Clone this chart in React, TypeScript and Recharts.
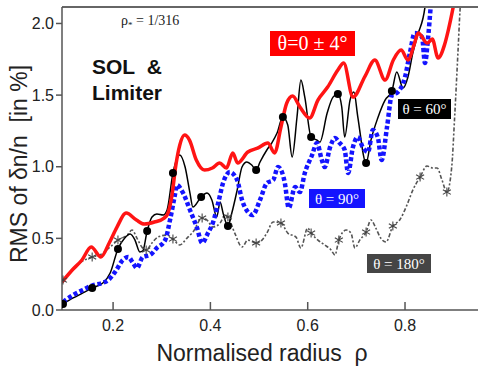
import React from "react";
import { ComposedChart, Line, XAxis, YAxis, Label } from "recharts";

// RMS of dn/n (in %) against normalised radius, one list per poloidal angle
const theta0: [number, number][] = [
  [0.095, 0.195], [0.116, 0.279], [0.136, 0.349], [0.155, 0.44], [0.175, 0.37],
  [0.192, 0.468], [0.208, 0.579], [0.227, 0.677], [0.248, 0.628], [0.264, 0.6],
  [0.285, 0.614], [0.305, 0.642], [0.312, 0.67], [0.321, 0.8], [0.329, 1.01],
  [0.337, 1.15], [0.347, 1.221], [0.357, 1.186], [0.371, 1.047], [0.388, 0.977],
  [0.404, 0.991], [0.419, 1.026], [0.433, 0.991], [0.446, 1.096], [0.456, 1.026],
  [0.477, 1.103], [0.497, 1.13], [0.518, 1.165], [0.532, 1.096], [0.545, 1.277],
  [0.557, 1.445], [0.569, 1.493], [0.584, 1.417], [0.604, 1.34], [0.621, 1.465],
  [0.641, 1.556], [0.662, 1.675], [0.674, 1.724], [0.693, 1.486], [0.718, 1.633],
  [0.738, 1.745], [0.759, 1.605], [0.776, 1.745], [0.792, 1.814], [0.806, 1.745],
  [0.819, 1.856], [0.827, 1.933], [0.846, 1.863], [0.856, 1.891], [0.868, 1.759],
  [0.881, 1.849], [0.889, 1.954], [0.899, 2.114], [0.909, 2.3],
];

const theta60: [number, number][] = [
  [0.097, 0.042], [0.118, 0.084], [0.138, 0.119], [0.157, 0.154], [0.179, 0.188],
  [0.194, 0.258], [0.21, 0.426], [0.224, 0.502], [0.235, 0.53], [0.245, 0.488],
  [0.255, 0.405], [0.261, 0.412], [0.27, 0.551], [0.28, 0.649], [0.29, 0.67],
  [0.303, 0.663], [0.311, 0.698], [0.323, 0.956], [0.337, 1.082], [0.348, 0.998],
  [0.358, 0.816], [0.364, 0.719], [0.381, 0.789], [0.393, 0.816], [0.403, 0.768],
  [0.413, 0.649], [0.42, 0.754], [0.426, 0.677], [0.436, 0.586], [0.444, 0.677],
  [0.455, 0.837], [0.465, 0.998], [0.475, 1.033], [0.485, 1.012], [0.494, 0.977],
  [0.502, 1.033], [0.516, 1.117], [0.526, 1.165], [0.537, 1.235], [0.549, 1.347],
  [0.559, 1.291], [0.568, 1.068], [0.578, 1.347], [0.586, 1.605], [0.594, 1.486],
  [0.607, 1.207], [0.619, 1.186], [0.625, 1.172], [0.64, 1.375], [0.652, 1.486],
  [0.662, 1.507], [0.67, 1.417], [0.676, 1.207], [0.687, 1.465], [0.695, 1.521],
  [0.703, 1.347], [0.72, 1.026], [0.73, 1.186], [0.744, 1.34], [0.759, 1.465],
  [0.773, 1.528], [0.783, 1.661], [0.796, 1.549], [0.806, 1.626], [0.816, 1.793],
  [0.826, 1.919], [0.841, 2.114], [0.847, 2.3],
];
const theta60Marks = [0.097, 0.157, 0.21, 0.27, 0.323, 0.381, 0.436, 0.494, 0.549, 0.607, 0.662, 0.72, 0.773];

const theta90: [number, number][] = [
  [0.097, 0.056], [0.118, 0.105], [0.138, 0.14], [0.159, 0.174], [0.177, 0.188],
  [0.19, 0.209], [0.204, 0.265], [0.22, 0.349], [0.231, 0.37], [0.241, 0.328],
  [0.249, 0.293], [0.261, 0.37], [0.276, 0.384], [0.29, 0.433], [0.307, 0.488],
  [0.317, 0.628], [0.327, 0.803], [0.331, 0.872], [0.344, 0.816], [0.358, 0.698],
  [0.372, 0.579], [0.383, 0.468], [0.395, 0.537], [0.405, 0.607], [0.416, 0.747],
  [0.426, 0.886], [0.44, 0.963], [0.455, 0.907], [0.465, 0.768], [0.477, 0.684],
  [0.487, 0.663], [0.502, 0.768], [0.516, 0.886], [0.529, 0.907], [0.539, 0.998],
  [0.547, 0.963], [0.553, 0.886], [0.561, 0.712], [0.574, 0.858], [0.584, 0.823],
  [0.594, 0.956], [0.609, 1.082], [0.619, 1.165], [0.629, 1.047], [0.635, 0.998],
  [0.646, 1.137], [0.656, 1.2], [0.666, 1.165], [0.676, 1.117], [0.683, 0.956],
  [0.693, 1.137], [0.703, 1.207], [0.713, 1.137], [0.724, 1.103], [0.734, 1.256],
  [0.744, 1.207], [0.752, 1.047], [0.763, 1.277], [0.773, 1.5], [0.785, 1.521],
  [0.8, 1.626], [0.81, 1.793], [0.82, 1.933], [0.835, 1.905], [0.841, 1.724],
  [0.847, 1.884], [0.853, 2.128], [0.857, 2.3],
];

const theta180: [number, number][] = [
  [0.097, 0.209], [0.118, 0.279], [0.132, 0.328], [0.157, 0.37], [0.173, 0.384],
  [0.194, 0.44], [0.21, 0.488], [0.229, 0.523], [0.239, 0.558], [0.249, 0.502],
  [0.259, 0.44], [0.268, 0.419], [0.28, 0.468], [0.292, 0.509], [0.311, 0.523],
  [0.323, 0.495], [0.337, 0.454], [0.352, 0.502], [0.364, 0.544], [0.383, 0.642],
  [0.393, 0.628], [0.405, 0.579], [0.42, 0.607], [0.43, 0.663], [0.436, 0.649],
  [0.45, 0.537], [0.465, 0.44], [0.477, 0.488], [0.494, 0.468], [0.506, 0.488],
  [0.516, 0.537], [0.529, 0.614], [0.545, 0.607], [0.559, 0.537], [0.576, 0.509],
  [0.586, 0.433], [0.6, 0.572], [0.607, 0.537], [0.621, 0.488], [0.635, 0.454],
  [0.648, 0.419], [0.656, 0.384], [0.664, 0.488], [0.679, 0.558], [0.689, 0.537],
  [0.697, 0.433], [0.707, 0.488], [0.72, 0.544], [0.73, 0.628], [0.74, 0.572],
  [0.75, 0.502], [0.761, 0.475], [0.775, 0.586], [0.789, 0.628], [0.804, 0.733],
  [0.816, 0.837], [0.831, 0.928], [0.845, 1.005], [0.857, 0.991], [0.866, 0.991],
  [0.876, 0.907], [0.886, 0.823], [0.896, 0.998], [0.902, 1.347], [0.909, 1.814],
  [0.913, 2.09], [0.917, 2.3],
];
const theta180Marks = [0.097, 0.157, 0.21, 0.268, 0.323, 0.383, 0.436, 0.494, 0.545, 0.607, 0.664, 0.72, 0.775, 0.831, 0.886];

const xTicks = [0.2, 0.4, 0.6, 0.8];
const yTicks = [0, 0.5, 1, 1.5, 2];

const SANS = "'Liberation Sans', Arial, sans-serif";
const SERIF = "'Liberation Serif', 'Times New Roman', serif";

const toRows = (pts: [number, number][]) => pts.map(([x, y]) => ({ x, y }));

const blackDot = (marks: number[]) => (props: any) => {
  const { cx, cy, payload, index } = props;
  if (!marks.includes(payload.x)) return <g key={index} />;
  return <circle key={index} cx={cx} cy={cy} r={4} fill="#000" />;
};

const starDot = (marks: number[]) => (props: any) => {
  const { cx, cy, payload, index } = props;
  if (!marks.includes(payload.x)) return <g key={index} />;
  return (
    <g key={index} stroke="#444" strokeWidth={1.1}>
      <line x1={cx} y1={cy - 4.5} x2={cx} y2={cy + 4.5} />
      <line x1={cx - 4} y1={cy - 2.3} x2={cx + 4} y2={cy + 2.3} />
      <line x1={cx - 4} y1={cy + 2.3} x2={cx + 4} y2={cy - 2.3} />
    </g>
  );
};

const tickStyle = { fontSize: 16, fill: "#222", fontFamily: SANS };

export default function App() {
  return (
    <div style={{ position: "relative", width: 478, height: 368 }}>
      <style>{`body{margin:0}`}</style>
      <ComposedChart width={478} height={368} margin={{ top: 7, right: 0, bottom: 0, left: 0 }}>
        <XAxis
          xAxisId="b"
          type="number"
          dataKey="x"
          domain={[0.095, 0.95]}
          allowDataOverflow
          ticks={xTicks}
          height={58}
          tickSize={-8}
          tickMargin={18}
          tickFormatter={(v: number) => v.toFixed(1)}
          tick={tickStyle}
          axisLine={{ stroke: "#555", strokeWidth: 1.5 }}
          tickLine={{ stroke: "#555", strokeWidth: 1.5 }}
        >
          <Label
            content={() => (
              <text x={262} y={361} textAnchor="middle" fontSize={23} fill="#222" fontFamily={SANS}>
                {"Normalised radius\u00a0\u00a0ρ"}
              </text>
            )}
          />
        </XAxis>
        <XAxis
          xAxisId="t"
          orientation="top"
          type="number"
          domain={[0.095, 0.95]}
          allowDataOverflow
          ticks={xTicks}
          mirror
          tick={false}
          tickSize={8}
          axisLine={{ stroke: "#666", strokeWidth: 2 }}
          tickLine={{ stroke: "#555", strokeWidth: 1.5 }}
        />
        <YAxis
          type="number"
          domain={[0, 2.115]}
          allowDataOverflow
          ticks={yTicks}
          width={62}
          tickSize={6}
          tickFormatter={(v: number) => v.toFixed(1)}
          tick={tickStyle}
          axisLine={{ stroke: "#555", strokeWidth: 1.5 }}
          tickLine={{ stroke: "#555", strokeWidth: 1.5 }}
        >
          <Label
            content={() => (
              <text
                x={27}
                y={164}
                transform="rotate(-90 27 164)"
                textAnchor="middle"
                fontSize={23}
                fill="#222"
                fontFamily={SANS}
              >
                {"RMS of δn/n\u00a0\u00a0[in %]"}
              </text>
            )}
          />
        </YAxis>
        <Line
          xAxisId="b"
          data={toRows(theta180)}
          dataKey="y"
          type="monotone"
          stroke="#555"
          strokeWidth={1.6}
          strokeDasharray="2 2 4 2"
          dot={starDot(theta180Marks)}
          isAnimationActive={false}
        />
        <Line
          xAxisId="b"
          data={toRows(theta60)}
          dataKey="y"
          type="monotone"
          stroke="#000"
          strokeWidth={1.5}
          dot={blackDot(theta60Marks)}
          isAnimationActive={false}
        />
        <Line
          xAxisId="b"
          data={toRows(theta90)}
          dataKey="y"
          type="monotone"
          stroke="#1414ff"
          strokeWidth={4.5}
          strokeDasharray="4 2.5"
          dot={false}
          isAnimationActive={false}
        />
        <Line
          xAxisId="b"
          data={toRows(theta0)}
          dataKey="y"
          type="monotone"
          stroke="#ff1414"
          strokeWidth={3.5}
          dot={false}
          isAnimationActive={false}
        />
      </ComposedChart>
      <svg
        width={478}
        height={368}
        style={{ position: "absolute", left: 0, top: 0, pointerEvents: "none" }}
      >
        <text x={121} y={25} fontSize={14} fontFamily={SERIF} fill="#222">
          ρ<tspan fontSize={9} dy={3}>*</tspan>
          <tspan dy={-3}>{"\u00a0= 1/316"}</tspan>
        </text>
        <text x={92} y={74} fontSize={21} fontWeight="bold" fontFamily={SANS} fill="#111">
          {"SOL\u00a0\u00a0&"}
        </text>
        <text x={92} y={100} fontSize={21} fontWeight="bold" fontFamily={SANS} fill="#111">
          Limiter
        </text>
        <rect x={270} y={31} width={85} height={25} fill="#ff0000" />
        <text x={312.5} y={50} textAnchor="middle" fontSize={20} fontFamily={SERIF} fill="#fff">
          θ=0 ± 4°
        </text>
        <rect x={398} y={99} width={53} height={20} fill="#000" />
        <text x={424.5} y={114} textAnchor="middle" fontSize={15} fontFamily={SERIF} fill="#fff">
          θ = 60°
        </text>
        <rect x={309} y={189} width={56} height={19} fill="#1414ff" />
        <text x={337} y={204} textAnchor="middle" fontSize={15} fontFamily={SERIF} fill="#fff">
          θ = 90°
        </text>
        <rect x={367} y={254} width={64} height={19} fill="#454545" />
        <text x={399} y={269} textAnchor="middle" fontSize={15} fontFamily={SERIF} fill="#fff">
          θ = 180°
        </text>
      </svg>
    </div>
  );
}
